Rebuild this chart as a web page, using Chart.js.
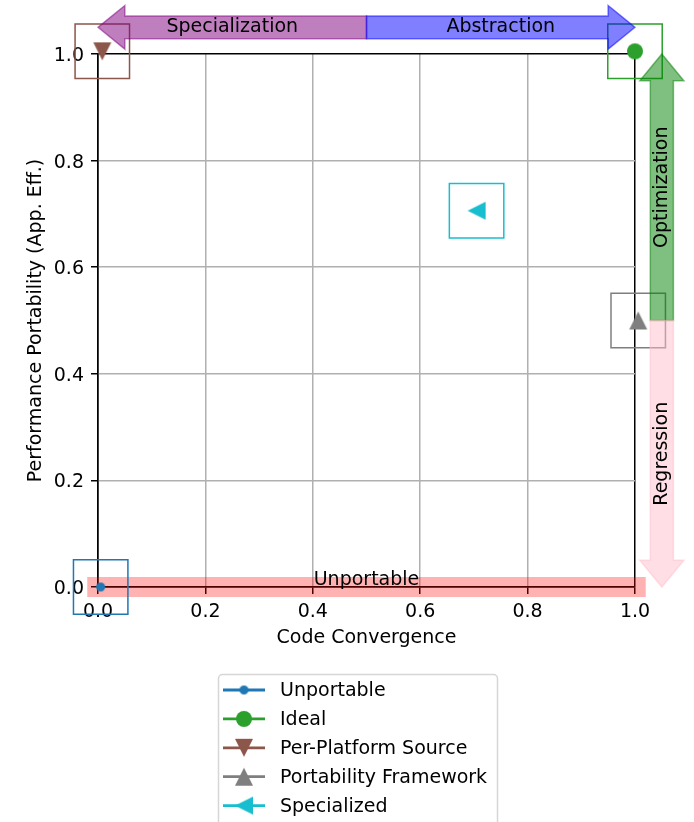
<!DOCTYPE html>
<html lang="en">
<head>
<meta charset="UTF-8">
<title>Code Convergence vs Performance Portability</title>
<script src="https://cdn.jsdelivr.net/npm/chart.js"></script>
<style>
  body { margin: 0; background: #fff; }
  .wrap { width: 694px; height: 822px; }
</style>
</head>
<body>
<div class="wrap"><canvas id="quad"></canvas></div>
<script>
// series: one point each
const seriesNames = ['Unportable', 'Ideal', 'Per-Platform Source', 'Portability Framework', 'Specialized'];
const codeConvergence = [0.005, 1.0, 0.008, 1.006, 0.705];
const perfPortability = [0.0, 1.005, 1.005, 0.5, 0.706];
const seriesColors = ['#1f77b4', '#2ca02c', '#8c564b', '#7f7f7f', '#17becf'];
const seriesMarkers = ['point', 'circle', 'tri_down', 'tri_up', 'tri_left'];

const tickValues = [0, 0.2, 0.4, 0.6, 0.8, 1.0];

// red band along y = 0
const bandX = [-0.02, 1.02];
const bandY = [0, 0];
const bandLabel = 'Unportable';
const bandLabelAt = [0.5, 0.0];

// direction arrows
const arrowNames = ['Specialization', 'Abstraction', 'Optimization', 'Regression'];
const arrowFrom = [[0.5, 1.05], [0.5, 1.05], [1.05, 0.5], [1.05, 0.5]];
const arrowTo = [[0.0, 1.05], [1.0, 1.05], [1.05, 1.0], [1.05, 0.0]];
const arrowLabelAt = [[0.25, 1.05], [0.75, 1.05], [1.05, 0.75], [1.05, 0.25]];
const arrowColors = ['rgba(128,0,128,0.5)', 'rgba(0,0,255,0.5)', 'rgba(0,128,0,0.5)', 'rgba(255,192,203,0.5)'];

const markerSize = { point: 9, circle: 16, tri_down: 18, tri_up: 18, tri_left: 18 };

function markerCanvas(kind, color) {
  const size = markerSize[kind];
  const c = document.createElement('canvas');
  c.width = c.height = size + 4;
  const g = c.getContext('2d');
  const m = c.width / 2, h = size / 2;
  g.fillStyle = color;
  g.beginPath();
  if (kind === 'point' || kind === 'circle') {
    g.arc(m, m, h, 0, Math.PI * 2);
  } else if (kind === 'tri_up') {
    g.moveTo(m, m - h); g.lineTo(m + h, m + h); g.lineTo(m - h, m + h);
  } else if (kind === 'tri_down') {
    g.moveTo(m, m + h); g.lineTo(m + h, m - h); g.lineTo(m - h, m - h);
  } else {
    g.moveTo(m - h, m); g.lineTo(m + h, m - h); g.lineTo(m + h, m + h);
  }
  g.closePath();
  g.fill();
  return c;
}

const markerImgs = seriesNames.map((n, i) => markerCanvas(seriesMarkers[i], seriesColors[i]));

const pointSets = seriesNames.map((name, i) => ({
  label: name,
  data: [{ x: codeConvergence[i], y: perfPortability[i] }],
  pointStyle: markerImgs[i],
  pointRadius: 9,
  borderColor: seriesColors[i],
  backgroundColor: seriesColors[i],
  clip: false
}));

const boxSet = {
  label: 'boxes',
  data: seriesNames.map((n, i) => ({ x: codeConvergence[i], y: perfPortability[i] })),
  pointStyle: 'rect',
  pointRadius: 38.5,
  pointBorderColor: seriesColors,
  pointBackgroundColor: 'rgba(0,0,0,0)',
  pointBorderWidth: 1.5,
  clip: false
};

const bandSet = {
  label: 'band',
  data: bandX.map((v, i) => ({ x: v, y: bandY[i] })),
  showLine: true,
  borderColor: 'rgba(255,0,0,0.3)',
  borderWidth: 20,
  borderCapStyle: 'butt',
  pointRadius: 0,
  clip: false
};

const isEdge = v => Math.abs(v) < 1e-9 || Math.abs(v - 1) < 1e-9;
const gridColor = c => (c.tick && isEdge(c.tick.value)) ? '#000' : '#b0b0b0';

const overlay = {
  id: 'overlay',
  afterDatasetsDraw(chart) {
    const { ctx, scales: { x, y } } = chart;
    const dx = v => Math.abs(x.getPixelForValue(v) - x.getPixelForValue(0));
    const dy = v => Math.abs(y.getPixelForValue(v) - y.getPixelForValue(0));
    ctx.save();
    arrowNames.forEach((name, i) => {
      const [x0, y0] = arrowFrom[i];
      const [x1, y1] = arrowTo[i];
      const horiz = y0 === y1;
      const halfShaft = (horiz ? dy(0.043) : dx(0.043)) / 2;
      const halfHead = (horiz ? dy(0.082) : dx(0.082)) / 2;
      const headLen = horiz ? dx(0.05) : dy(0.05);
      const px0 = x.getPixelForValue(x0), py0 = y.getPixelForValue(y0);
      const px1 = x.getPixelForValue(x1), py1 = y.getPixelForValue(y1);
      const len = Math.hypot(px1 - px0, py1 - py0);
      const ux = (px1 - px0) / len, uy = (py1 - py0) / len;
      const nx = -uy, ny = ux;
      const bx = px1 - ux * headLen, by = py1 - uy * headLen;
      ctx.beginPath();
      ctx.moveTo(px0 + nx * halfShaft, py0 + ny * halfShaft);
      ctx.lineTo(bx + nx * halfShaft, by + ny * halfShaft);
      ctx.lineTo(bx + nx * halfHead, by + ny * halfHead);
      ctx.lineTo(px1, py1);
      ctx.lineTo(bx - nx * halfHead, by - ny * halfHead);
      ctx.lineTo(bx - nx * halfShaft, by - ny * halfShaft);
      ctx.lineTo(px0 - nx * halfShaft, py0 - ny * halfShaft);
      ctx.closePath();
      ctx.fillStyle = arrowColors[i];
      ctx.fill();
      ctx.strokeStyle = arrowColors[i];
      ctx.lineWidth = 1.5;
      ctx.stroke();
    });

    ctx.fillStyle = '#000';
    ctx.font = '19px "DejaVu Sans"';
    ctx.textAlign = 'center';
    ctx.textBaseline = 'middle';
    arrowNames.forEach((name, i) => {
      const [lx, ly] = arrowLabelAt[i];
      const vertical = arrowFrom[i][0] === arrowTo[i][0];
      ctx.save();
      ctx.translate(x.getPixelForValue(lx), y.getPixelForValue(ly));
      if (vertical) ctx.rotate(-Math.PI / 2);
      ctx.fillText(name, 0, 0);
      ctx.restore();
    });
    ctx.textBaseline = 'alphabetic';
    ctx.fillText(bandLabel, x.getPixelForValue(bandLabelAt[0]), y.getPixelForValue(bandLabelAt[1]) - 2);
    ctx.restore();
  },
  afterDraw(chart) {
    const ctx = chart.ctx;
    const left = 218.5, top = 674.5, w = 279, h = 170, r = 4;
    ctx.save();
    ctx.beginPath();
    ctx.roundRect(left, top, w, h, r);
    ctx.fillStyle = '#fff';
    ctx.fill();
    ctx.strokeStyle = '#d6d6d6';
    ctx.lineWidth = 1.5;
    ctx.stroke();
    ctx.font = '19px "DejaVu Sans"';
    ctx.textAlign = 'left';
    ctx.textBaseline = 'middle';
    seriesNames.forEach((name, i) => {
      const ry = 690 + i * 28.9;
      ctx.strokeStyle = seriesColors[i];
      ctx.lineWidth = 2.8;
      ctx.beginPath();
      ctx.moveTo(223, ry);
      ctx.lineTo(265, ry);
      ctx.stroke();
      const img = markerImgs[i];
      ctx.drawImage(img, 244 - img.width / 2, ry - img.height / 2);
      ctx.fillStyle = '#000';
      ctx.fillText(name, 280, ry + 1);
    });
    ctx.restore();
  }
};

Chart.defaults.font.family = "'DejaVu Sans', sans-serif";
Chart.defaults.font.size = 19;
Chart.defaults.color = '#000';

new Chart(document.getElementById('quad'), {
  type: 'scatter',
  data: { datasets: [...pointSets, boxSet, bandSet] },
  options: {
    responsive: true,
    maintainAspectRatio: false,
    animation: false,
    events: [],
    layout: { padding: { left: 0, top: 54, right: 59, bottom: 173 } },
    plugins: { legend: { display: false }, tooltip: { enabled: false } },
    scales: {
      x: {
        type: 'linear', min: 0, max: 1,
        afterBuildTicks: s => { s.ticks = tickValues.map(v => ({ value: v })); },
        afterFit: s => { s.height = 62; },
        ticks: { callback: v => v.toFixed(1), padding: 7, autoSkip: false, maxRotation: 0 },
        grid: { color: gridColor, lineWidth: 1.5, tickLength: 7, tickColor: '#000', tickWidth: 1.5 },
        border: { display: true, color: '#000', width: 1.5 },
        title: { display: true, text: 'Code Convergence', padding: 0 }
      },
      y: {
        type: 'linear', min: 0, max: 1,
        afterBuildTicks: s => { s.ticks = tickValues.map(v => ({ value: v })); },
        afterFit: s => { s.width = 98; },
        ticks: { callback: v => v.toFixed(1), padding: 7, labelOffset: 2, autoSkip: false },
        grid: { color: gridColor, lineWidth: 1.5, tickLength: 7, tickColor: '#000', tickWidth: 1.5 },
        border: { display: true, color: '#000', width: 1.5 },
        title: { display: true, text: 'Performance Portability (App. Eff.)', padding: { top: 25, bottom: 0 } }
      }
    }
  },
  plugins: [overlay]
});
</script>
</body>
</html>
